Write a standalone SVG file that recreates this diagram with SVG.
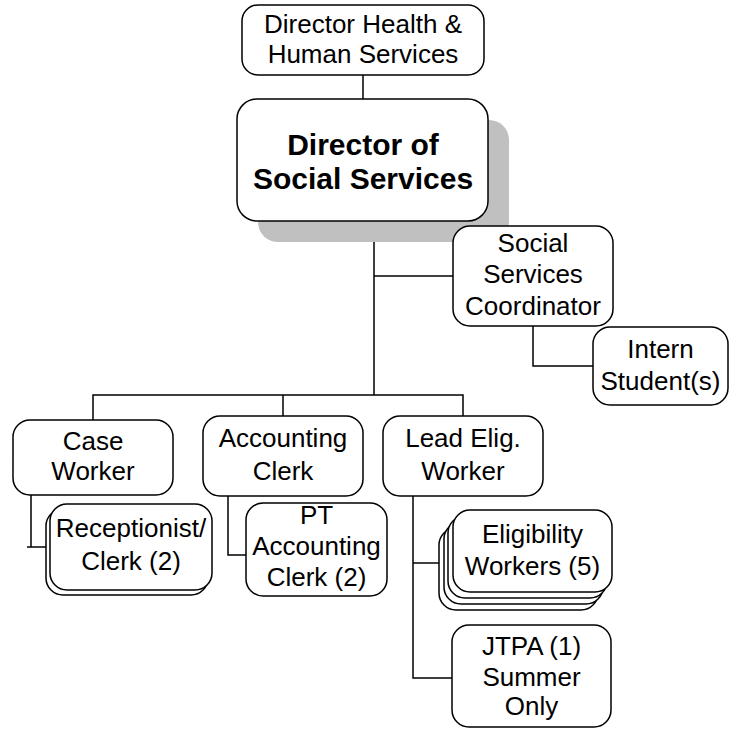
<svg xmlns="http://www.w3.org/2000/svg" width="729" height="729" viewBox="0 0 729 729">
<style>
.box{fill:#fff;stroke:#000;stroke-width:1.5}
.shadow{fill:#c0c0c0;stroke:none}
.t{font-family:"Liberation Sans",Arial,sans-serif;font-size:26px;fill:#000;text-anchor:middle}
.b{font-weight:bold;font-size:30px}
.ln{fill:none;stroke:#000;stroke-width:1.5}
</style>
<rect width="729" height="729" fill="#fff"/>
<g id="connectors">
<path class="ln" d="M363,75V99"/>
<path class="ln" d="M374,221V395"/>
<path class="ln" d="M374,276H453"/>
<path class="ln" d="M93,420V395H463V416"/>
<path class="ln" d="M283,395V416"/>
<path class="ln" d="M533,326V366H593"/>
<path class="ln" d="M31,495V547"/>
<path class="ln" d="M27,547H46"/>
<path class="ln" d="M228,496V555H246"/>
<path class="ln" d="M413,496V678H452"/>
<path class="ln" d="M413,563H439"/>
</g>
<g id="director-hhs">
<rect class="box" x="242" y="5" width="242" height="70" rx="16"/>
<text class="t" x="363" y="33">Director Health &amp;</text>
<text class="t" x="363" y="63">Human Services</text>
</g>
<g id="director-social">
<rect class="shadow" x="258" y="120" width="251" height="122" rx="20"/>
<rect class="box" x="237" y="99" width="251" height="122" rx="20"/>
<text class="t b" x="363" y="155">Director of</text>
<text class="t b" x="363" y="189">Social Services</text>
</g>
<g id="coordinator">
<rect class="box" x="453" y="226" width="160" height="100" rx="17"/>
<text class="t" x="533" y="252">Social</text>
<text class="t" x="533" y="283">Services</text>
<text class="t" x="533" y="315">Coordinator</text>
</g>
<g id="intern">
<rect class="box" x="593" y="327" width="135" height="78" rx="17"/>
<text class="t" x="660.5" y="358">Intern</text>
<text class="t" x="660.5" y="390">Student(s)</text>
</g>
<g id="case-worker">
<rect class="box" x="13" y="420" width="160" height="75" rx="17"/>
<text class="t" x="93" y="450">Case</text>
<text class="t" x="93" y="480">Worker</text>
</g>
<g id="accounting-clerk">
<rect class="box" x="203" y="416" width="160" height="80" rx="17"/>
<text class="t" x="283" y="447">Accounting</text>
<text class="t" x="283" y="480">Clerk</text>
</g>
<g id="lead-elig">
<rect class="box" x="383" y="416" width="160" height="80" rx="17"/>
<text class="t" x="463" y="447">Lead Elig.</text>
<text class="t" x="463" y="480">Worker</text>
</g>
<g id="receptionist">
<rect class="box" x="46" y="509" width="162" height="86" rx="17"/>
<rect class="box" x="50" y="504" width="162" height="86" rx="17"/>
<text class="t" x="131" y="537">Receptionist/</text>
<text class="t" x="131" y="570">Clerk (2)</text>
</g>
<g id="pt-accounting">
<rect class="box" x="246" y="503" width="141" height="93" rx="17"/>
<text class="t" x="316.5" y="524">PT</text>
<text class="t" x="316.5" y="555">Accounting</text>
<text class="t" x="316.5" y="586">Clerk (2)</text>
</g>
<g id="eligibility">
<rect class="box" x="439" y="528" width="159" height="82" rx="17"/>
<rect class="box" x="444" y="522" width="159" height="82" rx="17"/>
<rect class="box" x="448" y="516" width="159" height="82" rx="17"/>
<rect class="box" x="453" y="510" width="159" height="82" rx="17"/>
<text class="t" x="532.5" y="543">Eligibility</text>
<text class="t" x="532.5" y="575">Workers (5)</text>
</g>
<g id="jtpa">
<rect class="box" x="452" y="625" width="159" height="102" rx="17"/>
<text class="t" x="531.5" y="655">JTPA (1)</text>
<text class="t" x="531.5" y="686">Summer</text>
<text class="t" x="531.5" y="715">Only</text>
</g>
</svg>
